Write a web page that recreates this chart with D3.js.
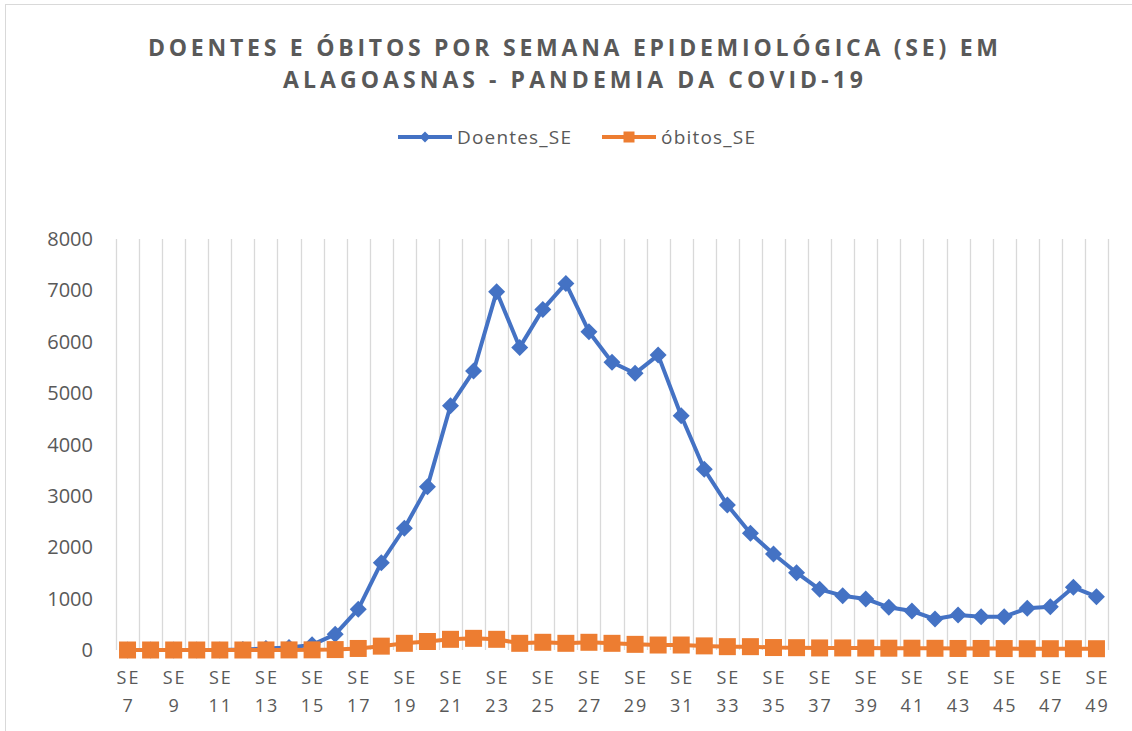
<!DOCTYPE html>
<html lang="pt">
<head>
<meta charset="UTF-8">
<title>Doentes e óbitos por SE</title>
<script src="https://cdn.jsdelivr.net/npm/d3@7"></script>
<style>
  body { margin: 0; background: #fff; }
  text { font-family: "Open Sans", "Noto Sans", sans-serif; fill: #595959; }
</style>
</head>
<body>
<svg width="1132" height="731"></svg>
<script>
// semanas epidemiológicas
var semanas = ["SE 7","SE 8","SE 9","SE 10","SE 11","SE 12","SE 13","SE 14","SE 15","SE 16",
  "SE 17","SE 18","SE 19","SE 20","SE 21","SE 22","SE 23","SE 24","SE 25","SE 26",
  "SE 27","SE 28","SE 29","SE 30","SE 31","SE 32","SE 33","SE 34","SE 35","SE 36",
  "SE 37","SE 38","SE 39","SE 40","SE 41","SE 42","SE 43","SE 44","SE 45","SE 46",
  "SE 47","SE 48","SE 49"]
var doentes = [0,0,0,0,0,10,30,50,100,305,
  795,1700,2370,3180,4755,5430,6975,5890,6630,7135,
  6195,5600,5385,5740,4560,3517,2822,2271,1868,1505,
  1181,1057,993,831,759,603,681,649,649,811,
  843,1220,1037]
var obitos = [0,0,0,0,0,0,1,2,3,8,
  30,75,130,165,208,227,208,130,150,130,
  150,130,110,97,97,80,65,65,48,45,
  40,40,38,35,35,33,30,30,28,25,
  25,25,25]
var yTicks = [0,1000,2000,3000,4000,5000,6000,7000,8000]
var titulo = ["DOENTES E ÓBITOS POR SEMANA EPIDEMIOLÓGICA (SE) EM", "ALAGOASNAS - PANDEMIA DA COVID-19"]

var azul = "#4472C4", laranja = "#ED7D31", grade = "#D9D9D9"

var svg = d3.select("svg")
var marge = {top: 239, left: 116, right: 1108, bottom: 650}

// borda do gráfico
svg.append("rect").attr("x", 5.5).attr("y", 4.5).attr("width", 1140).attr("height", 740)
  .attr("fill", "none").attr("stroke", grade)

// título
svg.selectAll(".titulo").data(titulo).enter().append("text")
  .attr("x", 573).attr("y", (d, i) => 56 + i * 32)
  .attr("text-anchor", "middle")
  .attr("font-size", 23).attr("font-weight", "bold")
  .attr("textLength", (d, i) => i == 0 ? 850 : 580)
  .attr("lengthAdjust", "spacing")
  .text(d => d)

var x = d3.scaleBand().domain(semanas).range([marge.left, marge.right])
var y = d3.scaleLinear().domain([0, 8000]).range([marge.bottom, marge.top])

// linhas de grade verticais (limites das categorias)
var limites = semanas.map(s => x(s)).concat([marge.right])
svg.append("g").selectAll("line").data(limites).enter().append("line")
  .attr("x1", d => Math.round(d) + 0.5).attr("x2", d => Math.round(d) + 0.5)
  .attr("y1", marge.top).attr("y2", marge.bottom)
  .attr("stroke", grade).attr("stroke-width", 1.3)

// eixo y
svg.append("g").selectAll("text").data(yTicks).enter().append("text")
  .attr("x", 93).attr("y", d => y(d)).attr("dy", "0.35em")
  .attr("text-anchor", "end").attr("font-size", 20)
  .text(d => d)

// eixo x: rótulos a cada duas semanas, em duas linhas
var rotulos = semanas.filter((d, i) => i % 2 == 0)
var gx = svg.append("g").selectAll("text").data(rotulos).enter().append("text")
  .attr("text-anchor", "middle").attr("font-size", 18).attr("letter-spacing", 2)
gx.append("tspan").attr("x", d => x(d) + x.bandwidth() / 2 + 1).attr("y", 684).text(d => d.split(" ")[0])
gx.append("tspan").attr("x", d => x(d) + x.bandwidth() / 2 + 1).attr("y", 712).text(d => d.split(" ")[1])

var cx = d => x(d) + x.bandwidth() / 2
var linha = d3.line().x(d => cx(d[0])).y(d => y(d[1]))

function serie(valores, cor, marcador) {
  var pts = semanas.map((s, i) => [s, valores[i]])
  var g = svg.append("g")
  g.append("path").attr("d", linha(pts)).attr("fill", "none")
    .attr("stroke", cor).attr("stroke-width", 4).attr("stroke-linejoin", "round")
  g.selectAll("path.m").data(pts).enter().append("path").attr("class", "m")
    .attr("transform", d => `translate(${cx(d[0])},${y(d[1])})`)
    .attr("d", marcador).attr("fill", cor)
}
var diamante = "M0,-8.5L8.5,0L0,8.5L-8.5,0Z"
var quadrado = "M-8.5,-8.5H8.5V8.5H-8.5Z"
serie(doentes, azul, diamante)
serie(obitos, laranja, quadrado)

// legenda
var legenda = [
  {nome: "Doentes_SE", cor: azul, x0: 398, w: 114, m: "M0,-5.5L5.5,0L0,5.5L-5.5,0Z"},
  {nome: "óbitos_SE", cor: laranja, x0: 602, w: 94, m: "M-5.5,-5.5H5.5V5.5H-5.5Z"}
]
var gl = svg.append("g").selectAll("g").data(legenda).enter().append("g")
  .attr("transform", d => `translate(${d.x0},137)`)
gl.append("line").attr("x1", 0).attr("x2", 54).attr("stroke", d => d.cor).attr("stroke-width", 4)
gl.append("path").attr("transform", "translate(27,0)").attr("d", d => d.m).attr("fill", d => d.cor)
gl.append("text").attr("x", 59).attr("dy", "0.35em").attr("font-size", 19)
  .attr("textLength", d => d.w).attr("lengthAdjust", "spacing").text(d => d.nome)
</script>
</body>
</html>
